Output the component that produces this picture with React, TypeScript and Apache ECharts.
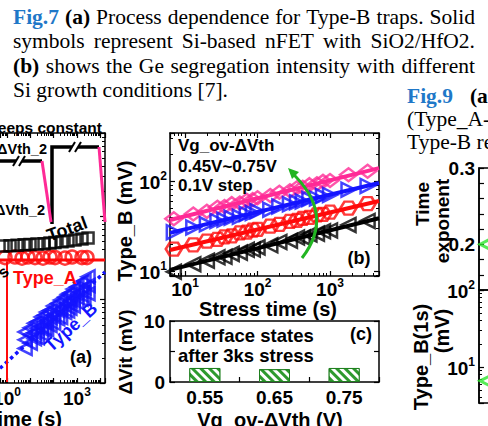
import React, { useEffect, useRef } from 'react';
import * as echarts from 'echarts';

// ---------------- data ----------------
// Panel (b): Type_B vs stress time for Vg_ov-ΔVth = 0.45..0.75 V
const stressTimes = [7, 13, 20, 28, 35, 44, 57, 71, 86, 100, 150, 200, 280, 350, 420, 520, 660, 800, 1000, 1800, 3300];
const typeB075 = [38, 43, 46, 51, 52, 56, 57, 61, 62, 65, 69, 75, 78, 84, 85, 91, 93, 99, 101, 117, 128];
const typeB065 = [27, 30.5, 33, 36, 37, 39, 40, 43, 44, 46, 48, 52, 55, 58, 59, 63, 64, 68, 70, 80, 88];
const typeB055 = [17.5, 19.5, 21.5, 22.5, 24, 24.5, 26.5, 27, 28.5, 29, 31.5, 33, 35.5, 36.5, 38.5, 39.5, 42, 42.5, 45, 50, 56];
const typeB045 = [9.8, 11.9, 13, 14.2, 14.4, 15.5, 16, 17.2, 17.3, 18.3, 19.3, 21, 21.7, 23.5, 23.6, 25.4, 26, 27.6, 28.2, 32.5, 36];
const fitTimes = [6.2, 4740];
const fit075 = [36.9, 139];
const fit065 = [26.5, 95];
const fit055 = [17.1, 60];
const fit045 = [10.3, 38.6];

// Panel (c): interface states after 3ks stress
const vgCategories = ['0.55', '0.65', '0.75'];
const vitValues = [2.3, 2.1, 2.3];

// Panel (a) (partly visible)
const typeATimes = [0.82, 2.2, 4.4, 7.9, 15.9, 35, 70, 115, 307, 620, 1650, 2700];
const typeAValues = [32, 32.5, 31.5, 32.5, 32, 31.5, 32.5, 32, 31.5, 32.5, 32, 32];
const typeALevelTimes = [0.5, 16000];
const typeALevel = [30, 30];
const totalTimes = [0.67, 1.35, 2.7, 5.4, 9.7, 19.4, 38.8, 70, 114, 228, 413, 827, 1650, 3000];
const totalValues = [44, 44.5, 45, 45.5, 46, 46.5, 47, 48, 48.5, 49.5, 50.5, 52, 53.5, 55];
const typeBaTimes = [6, 10, 15, 20, 30, 40, 50, 70, 100, 150, 200, 300, 400, 500, 700, 1000, 1500, 2000, 3000];
const typeBaUpper = [4.1, 4.6, 5.2, 5.4, 6.2, 6.5, 7.1, 7.4, 8.4, 9.0, 9.9, 10.7, 11.6, 12.0, 13.4, 14.2, 16.0, 16.8, 18.8];
const typeBaMid = [3.3, 3.8, 4.0, 4.5, 4.8, 5.4, 5.5, 6.1, 6.5, 7.4, 7.7, 8.7, 9.1, 9.8, 10.5, 11.6, 12.5, 13.8, 14.8];
const typeBaLower = [2.6, 3.0, 3.4, 3.5, 3.9, 4.3, 4.4, 4.9, 5.2, 5.9, 6.1, 7.0, 7.3, 7.9, 8.4, 9.3, 10.1, 11.0, 11.8];
const guideTimes = [0.5, 16000];
const guideValues = [1.5, 21.5];
const arrowTime = [1, 1];
const arrowValues = [29, 1.03];

// Fig.9 (partly visible)
const timeExponent = [[0.4, 0.2]];
const typeB1s = [[0.4, 6.6]];

// ---------------- style ----------------
const SANS = '"Liberation Sans", Arial, Helvetica, sans-serif';
const SERIF = '"Liberation Serif", "Times New Roman", serif';
const PINK = '#ff2a96';
const BLUE = '#1414ff';
const RED = '#ff0a0a';
const GREEN = '#22b522';
const CAP_BLUE = '#1f78c8';

const zip = (xs: number[], ys: number[]) => xs.map((x, i) => [x, ys[i]]);

const supRich = {
  b: { fontSize: 19, fontWeight: 'bold', fontFamily: SANS, color: '#000', padding: [3, 0, 0, 0] },
  s: { fontSize: 12, fontWeight: 'bold', fontFamily: SANS, color: '#000', verticalAlign: 'top' },
};
function powerLabel(shown: number[]) {
  return (v: number) => {
    const l = Math.log10(v);
    const e = Math.round(l);
    if (Math.abs(l - e) > 1e-6 || shown.indexOf(e) < 0) return '';
    return `{b|10}{s|${e}}`;
  };
}

function mkAxis(o: any) {
  return {
    gridIndex: o.grid,
    type: o.type,
    position: o.position,
    min: o.min,
    max: o.max,
    interval: o.interval,
    data: o.data,
    logBase: 10,
    show: o.show === undefined ? true : o.show,
    boundaryGap: o.type === 'category' ? true : undefined,
    axisLine: { show: true, onZero: false, lineStyle: { color: '#000', width: 1.5 } },
    axisTick: { show: o.ticks === undefined ? true : o.ticks, inside: true, length: 5, alignWithLabel: false, lineStyle: { color: '#000', width: 1.2 } },
    minorTick: { show: !!o.minor, splitNumber: o.minorSplit || 9, length: 3, lineStyle: { color: '#000', width: 1 } },
    axisLabel: o.label ? o.label : { show: false },
    splitLine: { show: false },
    minorSplitLine: { show: false },
  };
}

function txt(text: string, x: number, y: number, o: any = {}) {
  const align = o.align || 'left';
  const v = o.v || 'middle';
  return {
    type: 'text',
    x,
    y,
    rotation: ((o.rot || 0) * Math.PI) / 180,
    z: 100,
    silent: true,
    style: {
      text,
      x: 0,
      y: 0,
      fill: o.color || '#000',
      fontSize: o.size || 18,
      fontWeight: o.bold === false ? 'normal' : 'bold',
      fontFamily: o.family || SANS,
      align,
      verticalAlign: v,
      textAlign: align,
      textVerticalAlign: v,
    },
  };
}

type Word = { t: string; bold?: boolean; color?: string };
function captionLine(words: Word[], left: number, right: number, baseline: number, size: number, justify: boolean) {
  const ctx = document.createElement('canvas').getContext('2d')!;
  const fam = '"Liberation Serif", "Times New Roman", serif';
  const widths = words.map((w) => {
    ctx.font = `${w.bold ? 'bold ' : ''}${size}px ${fam}`;
    return ctx.measureText(w.t).width;
  });
  ctx.font = `${size}px ${fam}`;
  const space = ctx.measureText(' ').width;
  const total = widths.reduce((a, b) => a + b, 0);
  const gap = justify && words.length > 1 ? (right - left - total) / (words.length - 1) : space;
  let x = left;
  const y = baseline - 0.34 * size;
  return words.map((w, i) => {
    const el = txt(w.t, x, y, { size, bold: !!w.bold, color: w.color || '#000', family: SERIF });
    x += widths[i] + gap;
    return el;
  });
}

function buildOption() {
  const CS = 21.5;
  const graphics: any[] = [
    ...captionLine(
      [{ t: 'Fig.7', bold: true, color: CAP_BLUE }, { t: '(a)', bold: true }, { t: 'Process' }, { t: 'dependence' }, { t: 'for' }, { t: 'Type-B' }, { t: 'traps.' }, { t: 'Solid' }],
      13, 475, 24, CS, true
    ),
    ...captionLine(
      [{ t: 'symbols' }, { t: 'represent' }, { t: 'Si-based' }, { t: 'nFET' }, { t: 'with' }, { t: 'SiO2/HfO2.' }],
      13, 475, 48.5, CS, true
    ),
    ...captionLine(
      [{ t: '(b)', bold: true }, { t: 'shows' }, { t: 'the' }, { t: 'Ge' }, { t: 'segregation' }, { t: 'intensity' }, { t: 'with' }, { t: 'different' }],
      13, 475, 73, CS, true
    ),
    ...captionLine([{ t: 'Si growth conditions [7].' }], 13, 475, 97, CS, false),
    ...captionLine([{ t: 'Fig.9', bold: true, color: CAP_BLUE }, { t: '(a)', bold: true }], 407, 470 + 25, 103, CS, true),
    ...captionLine([{ t: '(Type_A-' }], 407, 488, 126, CS, false),
    ...captionLine([{ t: 'Type-B re' }], 407, 488, 149, CS, false),

    // panel (a) schematic
    { type: 'polyline', z: 50, shape: { points: [[-5, 161], [42, 161]] }, style: { stroke: '#000', lineWidth: 3.5, fill: 'none' } },
    { type: 'polyline', z: 50, shape: { points: [[52, 224], [52, 147], [99, 147]] }, style: { stroke: '#000', lineWidth: 3.5, fill: 'none' } },
    { type: 'line', z: 50, shape: { x1: 42, y1: 161, x2: 51, y2: 222 }, style: { stroke: PINK, lineWidth: 3 } },
    { type: 'line', z: 50, shape: { x1: 99, y1: 147, x2: 105, y2: 222 }, style: { stroke: PINK, lineWidth: 3 } },
    { type: 'rect', z: 51, shape: { x: 16, y: 157, width: 6, height: 8 }, style: { fill: '#fff' } },
    { type: 'line', z: 52, shape: { x1: 13, y1: 166, x2: 19, y2: 156 }, style: { stroke: '#000', lineWidth: 2 } },
    { type: 'line', z: 52, shape: { x1: 19, y1: 166, x2: 25, y2: 156 }, style: { stroke: '#000', lineWidth: 2 } },
    { type: 'rect', z: 51, shape: { x: 72, y: 143, width: 6, height: 8 }, style: { fill: '#fff' } },
    { type: 'line', z: 52, shape: { x1: 69, y1: 152, x2: 75, y2: 142 }, style: { stroke: '#000', lineWidth: 2 } },
    { type: 'line', z: 52, shape: { x1: 75, y1: 152, x2: 81, y2: 142 }, style: { stroke: '#000', lineWidth: 2 } },
    txt('keeps constant', 102, 127, { size: 15.5, align: 'right' }),
    txt('-ΔVth_2', 47, 149, { size: 14.5, align: 'right' }),
    txt('ΔVth_2', 45, 210, { size: 14.5, align: 'right' }),
    txt('Total', 67, 229, { size: 18, align: 'center', rot: 20 }),
    txt('Type_A', 13, 278, { size: 18, color: RED }),
    txt('Type_B', 71, 327, { size: 18, align: 'center', rot: 42, color: BLUE }),
    txt('(a)', 81, 357, { size: 18, align: 'center' }),
    txt('s', 3, 272, { size: 16, align: 'center', rot: 40 }),
    txt('Stress time (s)', 62, 419, { size: 20, align: 'right' }),

    // panel (b)
    txt('Vg_ov-ΔVth', 178, 145, { size: 17 }),
    txt('0.45V~0.75V', 178, 166.5, { size: 17 }),
    txt('0.1V step', 178, 185, { size: 17 }),
    txt('(b)', 359, 258, { size: 18, align: 'center' }),
    { type: 'bezierCurve', z: 60, shape: { x1: 302, y1: 258, x2: 291, y2: 172, cpx1: 336, cpy1: 214 }, style: { stroke: GREEN, lineWidth: 3, fill: 'none' } },
    { type: 'polygon', z: 61, shape: { points: [[288, 168], [299, 172], [292, 179]] }, style: { fill: GREEN } },
    txt('Type_B (mV)', 125, 221, { size: 20, align: 'center', rot: 90 }),
    txt('Stress time (s)', 268, 309, { size: 20, align: 'center' }),

    // panel (c)
    txt('Interface states', 178, 335, { size: 18.5 }),
    txt('after 3ks stress', 178, 355, { size: 18.5 }),
    txt('(c)', 361, 334, { size: 18, align: 'center' }),
    txt('ΔVit (mV)', 125, 352, { size: 19, align: 'center', rot: 90 }),
    txt('Vg_ov-ΔVth (V)', 270, 420, { size: 20, align: 'center' }),

    // Fig.9 titles
    txt('Time', 422, 204, { size: 19, align: 'center', rot: 90 }),
    txt('exponent', 442, 221, { size: 19, align: 'center', rot: 90 }),
    txt('Type_B(1s)', 421, 357, { size: 20, align: 'center', rot: 90 }),
    txt('(mV)', 442, 331, { size: 20, align: 'center', rot: 90 }),
  ];

  const logLbl = (shown: number[], margin: number) => ({ show: true, margin, formatter: powerLabel(shown), rich: supRich, showMinLabel: true, showMaxLabel: true, hideOverlap: false });
  const plainLbl = (fmt: (v: any) => string, margin: number) => ({ show: true, margin, formatter: fmt, fontSize: 19, fontWeight: 'bold', fontFamily: SANS, color: '#000' });

  const xAxis = [
    mkAxis({ grid: 0, type: 'log', position: 'bottom', min: 0.5, max: 16000, minor: true, label: logLbl([0, 3], 3) }),
    mkAxis({ grid: 0, type: 'log', position: 'top', min: 0.5, max: 16000, minor: true }),
    mkAxis({ grid: 1, type: 'log', position: 'bottom', min: 6.2, max: 4740, minor: true, label: logLbl([1, 2, 3], 1) }),
    mkAxis({ grid: 1, type: 'log', position: 'top', min: 6.2, max: 4740, minor: true }),
    mkAxis({ grid: 2, type: 'category', position: 'bottom', data: vgCategories, label: plainLbl((v) => v, 6) }),
    mkAxis({ grid: 2, type: 'category', position: 'top', data: vgCategories, ticks: false }),
    mkAxis({ grid: 3, type: 'value', min: 0, max: 10, show: false }),
    mkAxis({ grid: 4, type: 'value', min: 0, max: 10, show: false }),
  ];
  const yAxis = [
    mkAxis({ grid: 0, type: 'log', position: 'left', min: 1, max: 1000, show: false }),
    mkAxis({ grid: 0, type: 'log', position: 'right', min: 1, max: 1000, minor: true }),
    mkAxis({ grid: 1, type: 'log', position: 'left', min: 8.8, max: 341, minor: true, label: logLbl([1, 2], 3) }),
    mkAxis({ grid: 1, type: 'log', position: 'right', min: 8.8, max: 341, minor: true }),
    mkAxis({ grid: 2, type: 'value', position: 'left', min: 0, max: 10, interval: 5, label: plainLbl((v) => (v === 5 ? '' : String(v)), 5) }),
    mkAxis({ grid: 2, type: 'value', position: 'right', min: 0, max: 10, interval: 5 }),
    mkAxis({
      grid: 3, type: 'value', position: 'left', min: 0.14, max: 0.3, interval: 0.02,
      label: plainLbl((v) => (Math.abs(v - 0.2) < 1e-6 ? '0.2' : Math.abs(v - 0.3) < 1e-6 ? '0.3' : ''), 4),
    }),
    mkAxis({ grid: 4, type: 'log', position: 'left', min: 3.4, max: 100, minor: true, label: logLbl([1, 2], 4) }),
  ];

  const hollow = (c: string, w = 2.5) => ({ color: 'rgba(0,0,0,0)', borderColor: c, borderWidth: w });
  const hexagon = 'path://M0,5 L3,0 L9,0 L12,5 L9,10 L3,10 Z';

  const series: any[] = [
    // ---- panel (a)
    { type: 'line', xAxisIndex: 0, yAxisIndex: 0, data: zip(guideTimes, guideValues), showSymbol: false, lineStyle: { color: BLUE, width: 3.5, type: 'dotted' }, z: 3 },
    ...[typeBaUpper, typeBaMid, typeBaLower].map((vals) => ({
      type: 'scatter', xAxisIndex: 0, yAxisIndex: 0, data: zip(typeBaTimes, vals), symbol: 'triangle', symbolRotate: 90, symbolSize: 13, itemStyle: hollow(BLUE), z: 4,
    })),
    {
      type: 'line', xAxisIndex: 0, yAxisIndex: 0, data: zip(typeALevelTimes, typeALevel), showSymbol: false, lineStyle: { color: RED, width: 3 }, z: 3,
      markLine: {
        silent: true, symbol: ['none', 'arrow'], symbolSize: [0, 10], label: { show: false },
        lineStyle: { color: RED, width: 2, type: 'solid' },
        data: [[{ coord: [arrowTime[0], arrowValues[0]] }, { coord: [arrowTime[1], arrowValues[1]] }]],
      },
    },
    { type: 'scatter', xAxisIndex: 0, yAxisIndex: 0, data: zip(typeATimes, typeAValues), symbol: 'circle', symbolSize: 13, itemStyle: hollow(RED), z: 5 },
    { type: 'scatter', xAxisIndex: 0, yAxisIndex: 0, data: zip(totalTimes, totalValues), symbol: 'rect', symbolSize: 11, itemStyle: hollow('#000'), z: 5 },

    // ---- panel (b) fits
    ...[[fit075, PINK], [fit065, BLUE], [fit055, RED], [fit045, '#000']].map(([vals, c]: any) => ({
      type: 'line', xAxisIndex: 2, yAxisIndex: 2, data: zip(fitTimes, vals), showSymbol: false, lineStyle: { color: c, width: 4 }, z: 2,
    })),
    { type: 'scatter', xAxisIndex: 2, yAxisIndex: 2, data: zip(stressTimes, typeB075), symbol: 'diamond', symbolSize: [17, 13], itemStyle: hollow(PINK), z: 3 },
    { type: 'scatter', xAxisIndex: 2, yAxisIndex: 2, data: zip(stressTimes, typeB065), symbol: 'triangle', symbolRotate: -90, symbolSize: 14, itemStyle: hollow(BLUE), z: 3 },
    { type: 'scatter', xAxisIndex: 2, yAxisIndex: 2, data: zip(stressTimes, typeB055), symbol: hexagon, symbolSize: [16, 13], itemStyle: hollow(RED), z: 3 },
    { type: 'scatter', xAxisIndex: 2, yAxisIndex: 2, data: zip(stressTimes, typeB045), symbol: 'triangle', symbolRotate: 90, symbolSize: 14, itemStyle: hollow('#000'), z: 3 },

    // ---- panel (c)
    {
      type: 'bar', xAxisIndex: 4, yAxisIndex: 4, data: vitValues, barWidth: 31,
      itemStyle: {
        color: '#2e9a2e', borderColor: '#1f7f1f', borderWidth: 1,
        decal: { symbol: 'rect', symbolSize: 1, color: '#ffffff', dashArrayX: [1, 0], dashArrayY: [3, 3], rotation: Math.PI / 4 },
      },
    },

    // ---- Fig.9
    { type: 'scatter', xAxisIndex: 6, yAxisIndex: 6, data: timeExponent, symbol: 'triangle', symbolRotate: 90, symbolSize: 14, itemStyle: hollow('#2ee62e', 3), clip: false },
    { type: 'scatter', xAxisIndex: 7, yAxisIndex: 7, data: typeB1s, symbol: 'triangle', symbolRotate: 90, symbolSize: 14, itemStyle: hollow('#2ee62e', 3), clip: false },
  ];

  const g = { containLabel: false, outerBoundsMode: 'none' };
  return {
    animation: false,
    backgroundColor: '#fff',
    grid: [
      { ...g, left: 0, top: 133, width: 105, height: 250 },
      { ...g, left: 170, top: 133, width: 209, height: 143 },
      { ...g, left: 170, top: 321, width: 209, height: 61 },
      { ...g, left: 479, top: 168, width: 200, height: 122, show: true, borderColor: '#000', borderWidth: 1.5, backgroundColor: 'transparent' },
      { ...g, left: 479, top: 290, width: 200, height: 113, show: true, borderColor: '#000', borderWidth: 1.5, backgroundColor: 'transparent' },
    ],
    xAxis,
    yAxis,
    series,
    graphic: { elements: graphics },
  };
}

export default function App() {
  const ref = useRef<HTMLDivElement>(null);
  useEffect(() => {
    if (!ref.current) return;
    const chart = echarts.init(ref.current, undefined, { renderer: 'svg' });
    chart.setOption(buildOption() as any);
    return () => chart.dispose();
  }, []);
  return <div ref={ref} style={{ position: 'fixed', left: 0, top: 0, width: 488, height: 426, background: '#fff' }} />;
}
